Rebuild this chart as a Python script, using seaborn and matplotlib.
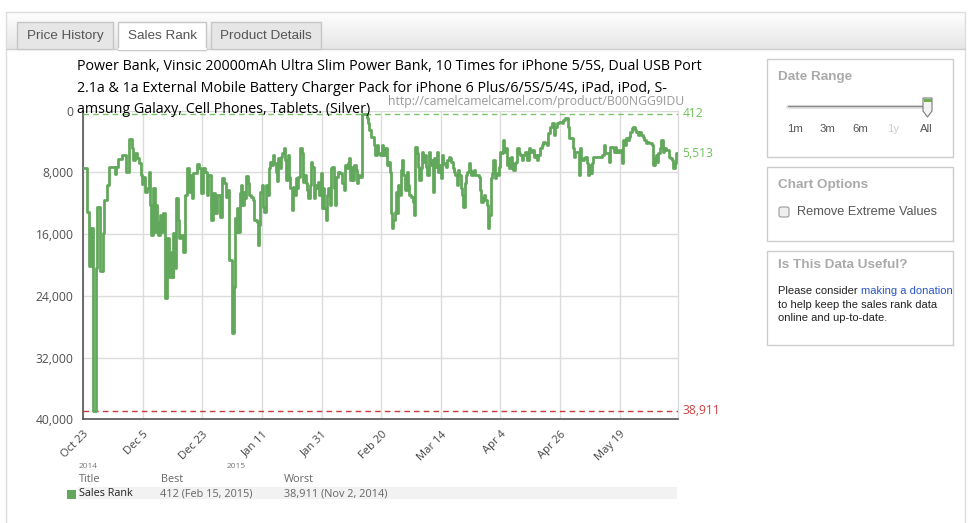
import numpy as np
import pandas as pd
import seaborn as sns
import matplotlib.pyplot as plt
from matplotlib.patches import Rectangle, Polygon, FancyBboxPatch

# Sales rank history (x = position in days from the first tick, y = rank)
days = [0.0, 1.1, 1.9, 2.5, 3.3, 4.3, 4.7, 5.6, 6.5, 7.1, 7.8, 8.7, 10.5, 11.0, 11.5, 13.0,
        14.2, 15.3, 16.3, 16.8, 17.4, 17.9, 18.6, 19.3, 19.7, 20.2, 20.7, 21.3, 21.9, 22.4,
        22.6, 23.3, 23.5, 24.1, 24.4, 24.8, 25.2, 25.7, 26.2, 26.6, 27.5, 28.2, 28.9, 29.3,
        30.0, 30.2, 30.8, 31.1, 31.8, 32.2, 32.8, 33.6, 34.2, 34.7, 35.4, 35.8, 36.4, 36.9,
        38.0, 38.7, 39.4, 40.1, 40.8, 41.4, 42.0, 42.7, 43.4, 44.1, 44.8, 45.9, 46.5, 47.2,
        47.9, 48.6, 49.0, 49.8, 50.7, 50.9, 51.2, 51.6, 52.0, 52.5, 52.7, 52.9, 53.4, 53.8,
        54.3, 54.6, 55.2, 55.6, 56.3, 57.0, 57.4, 58.2, 58.5, 59.0, 59.4, 59.9, 60.3, 60.8,
        61.2, 61.4, 61.9, 62.3, 62.8, 63.2, 63.8, 64.1, 64.6, 65.0, 65.5, 65.9, 66.4, 66.8,
        67.2, 67.7, 68.1, 68.6, 69.0, 69.5, 69.9, 70.4, 70.8, 71.3, 71.7, 72.2, 72.7, 73.3,
        73.7, 74.2, 74.6, 75.1, 75.5, 76.0, 76.4, 76.9, 77.3, 77.8, 78.2, 78.7, 79.1, 79.6,
        80.0, 80.5, 80.9, 81.3, 81.8, 82.2, 82.7, 83.1, 83.6, 84.0, 84.5, 84.9, 85.6, 86.3,
        86.9, 87.4, 87.8, 88.3, 88.7, 89.2, 89.6, 90.1, 90.5, 91.0, 91.4, 91.9, 92.3, 93.0,
        93.4, 95.1, 95.4, 95.9, 96.6, 97.4, 98.0, 98.4, 99.0, 99.6, 100.1, 100.7, 101.2,
        101.8, 102.4, 102.9, 103.3, 103.6, 104.0, 104.5, 104.9, 105.2, 105.6, 106.1, 106.5,
        106.9, 107.4, 107.8, 108.5, 109.0, 109.4, 110.1, 110.5, 111.0, 111.3, 111.9, 112.3,
        112.8, 113.2, 113.7, 114.1, 114.6, 115.0, 115.5, 115.9, 116.3, 116.8, 117.2, 117.7,
        118.1, 118.6, 119.0, 119.5, 119.9, 120.4, 120.8, 121.3, 121.7, 122.2, 122.6, 123.1,
        123.5, 124.0, 124.4, 124.9, 125.3, 125.7, 126.2, 126.6, 127.1, 127.5, 128.0, 128.4,
        128.9, 129.3, 129.8, 130.2, 130.7, 131.1, 131.6, 132.7, 133.1, 133.6, 134.0, 134.5,
        134.9, 135.4, 135.8, 136.3, 136.7, 137.2, 137.6, 138.1, 138.5, 139.0, 139.4, 139.8,
        140.3, 140.7, 141.2, 141.6, 142.1, 142.5, 143.0, 143.4, 143.9, 144.3, 144.8, 145.2,
        145.7, 146.1, 146.7, 147.1, 147.7, 148.3, 148.8, 149.4, 149.9, 150.5, 151.1, 151.6,
        152.2, 152.7, 153.3, 153.9, 154.4, 155.0, 155.5, 156.1, 156.7, 157.2, 157.8, 158.3,
        158.9, 159.5, 160.6, 161.1, 161.7, 162.6, 163.0, 164.2, 164.6, 165.0, 166.2, 166.6,
        167.1, 167.5, 168.0, 168.4, 168.9, 169.3, 169.7, 170.2, 170.6, 171.1, 174.2, 174.7,
        175.1, 176.5, 176.9, 177.6, 178.0, 178.5, 178.9, 179.4, 179.8, 180.3, 180.7, 181.2,
        181.6, 182.1, 182.5, 183.0, 183.4, 184.1, 184.6, 185.2, 185.6, 186.1, 186.5, 187.0,
        187.9, 188.3, 188.8, 189.2, 189.7, 190.8, 191.2, 191.7, 192.1, 192.6, 193.0, 193.5,
        193.9, 194.4, 194.8, 195.5, 196.6, 197.0, 197.5, 197.9, 198.4, 198.8, 199.4]
ranks = [7400, 13100, 20200, 15250, 38911, 20430, 12450, 20730, 15900, 11590, 9640, 7270, 8260,
         7270, 6320, 5760, 7920, 3730, 4900, 6410, 5540, 6190, 6840, 8350, 9560, 8570, 10510,
         9990, 7920, 12230, 16120, 15250, 10080, 15690, 12230, 14390, 16120, 13530, 15690,
         13310, 24320, 16550, 21510, 18270, 21510, 15900, 20430, 11370, 14180, 16550, 16120,
         18270, 10940, 7490, 10510, 8350, 11370, 8130, 6970, 7490, 10720, 7490, 7920, 10940,
         8350, 14180, 10720, 13310, 10940, 13740, 8780, 9430, 11150, 10290, 19350, 28850,
         22800, 13960, 15690, 12660, 15690, 12230, 10720, 9640, 12230, 10510, 11370, 8440,
         9430, 10940, 11150, 11590, 14180, 14390, 17410, 14820, 10510, 9640, 12450, 13100,
         12230, 9640, 10940, 7490, 6620, 7060, 5760, 6840, 7920, 9130, 6190, 7490, 5980, 5540,
         4810, 6410, 9000, 5760, 8570, 10080, 12880, 9860, 10940, 8780, 10080, 8570, 4810,
         5540, 9210, 8350, 9430, 10290, 11370, 9640, 6620, 7270, 11370, 9640, 10080, 9210,
         10940, 8130, 12660, 10080, 12660, 14180, 10940, 10080, 12230, 7490, 7270, 10080,
         12230, 8570, 7920, 8130, 9430, 10290, 7060, 7490, 6840, 6190, 9000, 7270, 9000, 7060,
         7700, 9430, 8350, 8570, 412, 1010, 1660, 2520, 3390, 4470, 5760, 4470, 5540, 5760,
         4470, 5760, 4900, 7060, 6620, 7920, 13310, 15250, 14180, 13100, 10510, 13310, 9640,
         10940, 7700, 6410, 8350, 10290, 7920, 9640, 10940, 11150, 11800, 13530, 4680, 5540,
         7270, 9000, 7490, 5330, 6620, 5760, 7270, 8350, 5330, 7060, 6410, 10510, 6190, 7270,
         5330, 7920, 7060, 8780, 5760, 6840, 7060, 7270, 6410, 5980, 6190, 6620, 7490, 7920,
         8350, 9640, 7700, 8350, 10080, 10940, 12450, 9430, 8350, 7920, 6840, 7700, 8350, 7920,
         7700, 8350, 8570, 10290, 11800, 11370, 10940, 11590, 12230, 15250, 13530, 8780, 8130,
         6410, 8780, 8130, 8350, 7270, 5330, 5540, 3820, 5330, 4900, 7060, 6190, 7490, 5980,
         6840, 7700, 6840, 6620, 4900, 5540, 5760, 6410, 5760, 5330, 6410, 4900, 5330, 5110,
         5980, 5760, 6410, 5760, 4900, 4470, 4030, 4250, 4470, 2960, 2090, 1660, 3170, 2090,
         1660, 1450, 1660, 1230, 1010, 2090, 3600, 4900, 5980, 5330, 8350, 4900, 6190, 6410,
         6190, 5980, 6840, 8350, 7060, 8130, 6840, 5980, 5760, 4470, 5540, 6620, 4680, 4900,
         5330, 4680, 5330, 5110, 5330, 5110, 6840, 3820, 4470, 3600, 3820, 3390, 2740, 2310,
         2090, 2520, 2740, 3170, 2740, 3170, 3390, 3820, 4250, 4030, 4250, 4470, 7060, 6190,
         5760, 6620, 5540, 4900, 3820, 5330, 4900, 5110, 5980, 6190, 6410, 7490, 6840, 5513,
         5513]

tick_days = [0, 20, 40, 60, 80, 100, 120, 140, 160, 180]
tick_labels = ["Oct 23", "Dec 5", "Dec 23", "Jan 11", "Jan 31", "Feb 20", "Mar 14",
               "Apr 4", "Apr 26", "May 19"]
rank_ticks = [0, 8000, 16000, 24000, 32000, 40000]
best_rank = 412
worst_rank = 38911
current_rank = 5513
title_lines = ["Power Bank, Vinsic 20000mAh Ultra Slim Power Bank, 10 Times for iPhone 5/5S, Dual USB Port",
               "2.1a & 1a External Mobile Battery Charger Pack for iPhone 6 Plus/6/5S/5/4S, iPad, iPod, S-",
               "amsung Galaxy, Cell Phones, Tablets. (Silver)"]

GREEN = "#62a85c"
CHART_FONT = "Open Sans"
UI_FONT = "Liberation Sans"

sns.set_style("white")
plt.rcParams['font.family'] = [CHART_FONT, 'DejaVu Sans']

fig = plt.figure(figsize=(9.73, 5.23), dpi=100)

# page background drawn in pixel coordinates
bg = fig.add_axes([0, 0, 1, 1], zorder=-1)
bg.set_xlim(0, 973)
bg.set_ylim(523, 0)
bg.axis('off')

# outer frame and tab bar
grad = np.linspace(1.0, 0.9, 50)[:, None, None] * np.ones((1, 1, 3))
bg.imshow(grad, extent=(6, 965, 49, 12), aspect='auto', zorder=1)
bg.plot([6, 965], [12, 12], color="#dddddd", lw=1, zorder=2)
bg.plot([6, 6], [12, 523], color="#dddddd", lw=1, zorder=2)
bg.plot([965, 965], [12, 523], color="#dddddd", lw=1, zorder=2)
bg.plot([6, 965], [49, 49], color="#cccccc", lw=1, zorder=2)

tabs = [("Price History", 17, 113, False), ("Sales Rank", 118, 206, True),
        ("Product Details", 211, 321, False)]
for name, x0, x1, active in tabs:
    bg.add_patch(Rectangle((x0, 22), x1 - x0, 27.5 if active else 27,
                           facecolor="white" if active else "#e6e6e6",
                           edgecolor="#c6c6c6", lw=1, zorder=3))
    if active:
        bg.plot([x0 + 0.5, x1 - 0.5], [49, 49], color="white", lw=1.5, zorder=4)
    fig.text((x0 + x1) / 2, 36, name, transform=bg.transData, ha='center', va='center',
             fontsize=9.7, color="#555555", family=UI_FONT, zorder=6)

# sidebar panels
for y0, y1 in [(59, 157), (167, 241), (251, 345)]:
    bg.add_patch(Rectangle((767, y0), 186, y1 - y0, facecolor="white",
                           edgecolor="#cccccc", lw=1, zorder=2))
fig.text(778, 77, "Date Range", transform=bg.transData, va='center', fontsize=9.7,
         fontweight='bold', color="#aaaaaa", family=UI_FONT)
bg.plot([788, 927], [107, 107], color="#e4e4e4", lw=3, zorder=3)
bg.plot([788, 927], [105.5, 105.5], color="#8a8a8a", lw=1, zorder=3)
bg.add_patch(Polygon([(923, 98), (932, 98), (932, 111), (927.5, 117), (923, 111)],
                     closed=True, facecolor="#f3f3f3", edgecolor="#7a7a7a", lw=0.8, zorder=4))
bg.add_patch(Rectangle((923.5, 98.5), 8, 3.5, facecolor="#6fae4a", lw=0, zorder=5))
for lab, xc, col in [("1m", 795, "#555555"), ("3m", 827.7, "#555555"), ("6m", 860, "#555555"),
                     ("1y", 893, "#cccccc"), ("All", 926.7, "#555555")]:
    fig.text(xc, 129.5, lab, transform=bg.transData, ha='center', va='center', fontsize=8.2,
             color=col, family=UI_FONT)

fig.text(778, 185, "Chart Options", transform=bg.transData, va='center', fontsize=9.7,
         fontweight='bold', color="#aaaaaa", family=UI_FONT)
bg.add_patch(FancyBboxPatch((779, 207), 10, 10, boxstyle="round,pad=0,rounding_size=2",
                            facecolor="#efefef", edgecolor="#9a9a9a", lw=0.8, zorder=3))
fig.text(797, 212, "Remove Extreme Values", transform=bg.transData, va='center', fontsize=9.2,
         color="#555555", family=UI_FONT)

fig.text(778, 264.5, "Is This Data Useful?", transform=bg.transData, va='center', fontsize=9.7,
         fontweight='bold', color="#aaaaaa", family=UI_FONT)
fig.text(778, 291, "Please consider", transform=bg.transData, va='center', fontsize=8.0,
         color="#222222", family=UI_FONT)
fig.text(861, 291, "making a donation", transform=bg.transData, va='center', fontsize=8.0,
         color="#2b55c8", family=UI_FONT)
fig.text(778, 304.5, "to help keep the sales rank data", transform=bg.transData, va='center',
         fontsize=8.0, color="#222222", family=UI_FONT)
fig.text(778, 318, "online and up-to-date.", transform=bg.transData, va='center',
         fontsize=8.0, color="#222222", family=UI_FONT)

# chart title and url
for i, line in enumerate(title_lines):
    fig.text(77, 67 + 21.2 * i, line, transform=bg.transData, va='center', fontsize=10.3,
             color="black", zorder=6)
fig.text(684, 101.5, "http://camelcamelcamel.com/product/B00NGG9IDU", transform=bg.transData,
         ha='right', va='center', fontsize=8.8, color="#999999", zorder=6)

# chart
ax = fig.add_axes([83.3 / 973, 1 - 419.3 / 523, 594.2 / 973, 308.8 / 523])
ax.set_facecolor("none")
df = pd.DataFrame({"day": days, "rank": ranks})
sns.lineplot(data=df, x="day", y="rank", ax=ax, color=GREEN, linewidth=2.0,
             drawstyle="steps-post", estimator=None, sort=False, zorder=4)

ax.axhline(best_rank, color="#7cc46a", lw=1, ls=(0, (4, 3)), zorder=3)
ax.axhline(worst_rank, color="#c83a3a", lw=1, ls=(0, (4, 3)), zorder=3)

ax.set_xlim(0, 199.4)
ax.set_ylim(40000, 0)
ax.set_xticks(tick_days)
ax.set_xticklabels(tick_labels, rotation=45, ha='right', rotation_mode='anchor')
ax.set_yticks(rank_ticks)
ax.set_yticklabels([f"{v:,}" for v in rank_ticks])
ax.tick_params(axis='x', length=4, width=1, color="#444444", pad=3, labelsize=8,
               labelcolor="#444444")
ax.tick_params(axis='y', length=4, width=1, color="#444444", pad=3, labelsize=8.7,
               labelcolor="#505050")
ax.grid(True, color="#dcdcdc", lw=1)
ax.set_axisbelow(True)
ax.set_xlabel("")
ax.set_ylabel("")
for side in ["left", "bottom"]:
    ax.spines[side].set_color("#555555")
    ax.spines[side].set_linewidth(1.2)
ax.spines["top"].set_visible(False)
ax.spines["right"].set_color("#dcdcdc")
ax.spines["right"].set_linewidth(1)

# value labels at right edge
ytr = ax.get_yaxis_transform()
ax.text(1.008, best_rank, f"{best_rank:,}", transform=ytr, va='center', fontsize=8.7,
        color="#6cbf5a", clip_on=False)
ax.text(1.008, current_rank, f"{current_rank:,}", transform=ytr, va='center', fontsize=8.7,
        color="#6cbf5a", clip_on=False)
ax.text(1.008, worst_rank, f"{worst_rank:,}", transform=ytr, va='center', fontsize=8.7,
        color="#d04040", clip_on=False)

# year labels and summary table
fig.text(88, 466, "2014", transform=bg.transData, ha='center', va='center', fontsize=6,
         color="#777777")
fig.text(236.5, 466, "2015", transform=bg.transData, ha='center', va='center', fontsize=6,
         color="#777777")
bg.add_patch(Rectangle((78, 487), 599, 12, facecolor="#f2f2f2", lw=0, zorder=2))
bg.add_patch(Rectangle((67, 490), 9, 9, facecolor=GREEN, lw=0, zorder=3))
for txt, xx in [("Title", 79), ("Best", 160.5), ("Worst", 283.5)]:
    fig.text(xx, 480, txt, transform=bg.transData, va='center', fontsize=7.8, color="#666666")
fig.text(79, 494, "Sales Rank", transform=bg.transData, va='center', fontsize=7.8,
         color="#222222")
fig.text(160.5, 494, f"{best_rank} (Feb 15, 2015)", transform=bg.transData, va='center',
         fontsize=7.8, color="#666666")
fig.text(284.5, 494, f"{worst_rank:,} (Nov 2, 2014)", transform=bg.transData, va='center',
         fontsize=7.8, color="#666666")

fig.savefig("out.png", dpi=100)
